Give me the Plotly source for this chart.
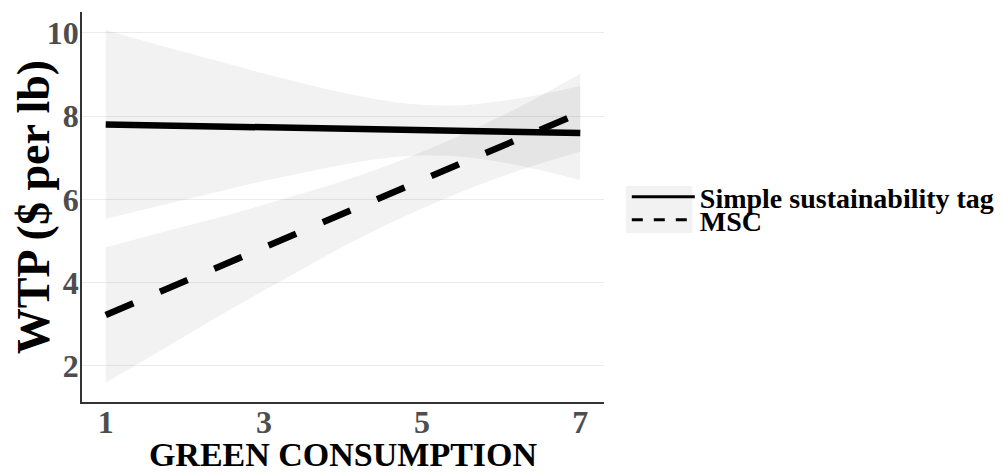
import plotly.graph_objects as go

# Green consumption scale positions
x_vals = [1, 1.5, 2, 2.5, 3, 3.5, 4, 4.5, 5, 5.5, 6, 6.5, 7]

# Simple sustainability tag: fitted WTP and confidence band
simple_fit = [7.80, 7.78, 7.77, 7.75, 7.73, 7.71, 7.70, 7.68, 7.66, 7.64, 7.63, 7.61, 7.59]
simple_upper = [10.07, 9.80, 9.54, 9.28, 9.02, 8.78, 8.56, 8.38, 8.27, 8.26, 8.36, 8.52, 8.72]
simple_lower = [5.53, 5.76, 5.99, 6.22, 6.44, 6.64, 6.83, 6.98, 7.05, 7.02, 6.89, 6.70, 6.46]

# MSC: fitted WTP and confidence band
msc_fit = [3.22, 3.63, 4.03, 4.44, 4.84, 5.25, 5.65, 6.06, 6.46, 6.87, 7.27, 7.68, 8.08]
msc_upper = [4.85, 5.10, 5.35, 5.60, 5.87, 6.15, 6.44, 6.77, 7.14, 7.55, 8.00, 8.49, 9.02]
msc_lower = [1.59, 2.15, 2.71, 3.27, 3.81, 4.34, 4.86, 5.34, 5.78, 6.18, 6.54, 6.86, 7.14]

series_names = ["Simple sustainability tag", "MSC"]
x_ticks = [1, 3, 5, 7]
y_ticks = [2, 4, 6, 8, 10]

FONT = "Liberation Serif, Times New Roman, serif"
BAND = "rgba(0,0,0,0.05)"

fig = go.Figure()

def add_band(lower, upper):
    fig.add_trace(go.Scatter(x=x_vals, y=lower, mode="lines", line=dict(width=0, shape="spline"),
                             showlegend=False, hoverinfo="skip"))
    fig.add_trace(go.Scatter(x=x_vals, y=upper, mode="lines", line=dict(width=0, shape="spline"),
                             fill="tonexty", fillcolor=BAND, showlegend=False, hoverinfo="skip"))

add_band(simple_lower, simple_upper)
fig.add_trace(go.Scatter(x=x_vals, y=simple_fit, mode="lines", name=series_names[0],
                         line=dict(color="black", width=6.5), showlegend=False))
add_band(msc_lower, msc_upper)
fig.add_trace(go.Scatter(x=x_vals, y=msc_fit, mode="lines", name=series_names[1],
                         line=dict(color="black", width=6.5, dash="30px,29px"), showlegend=False))

# legend entries (thinner key lines, as in the reference legend)
fig.add_trace(go.Scatter(x=[None], y=[None], mode="lines", name=series_names[0],
                         line=dict(color="black", width=3), legend="legend"))
fig.add_trace(go.Scatter(x=[None], y=[None], mode="lines", name=series_names[1],
                         line=dict(color="black", width=3, dash="11px,11px"), legend="legend2"))

legend_common = dict(x=1.0437, xanchor="left", yanchor="middle",
                     font=dict(family=FONT, size=28, color="black", weight="bold"),
                     bgcolor="rgba(0,0,0,0)", itemwidth=63, borderwidth=0)

fig.update_layout(
    width=996, height=465,
    margin=dict(l=74, r=396, t=4, b=71),
    paper_bgcolor="white", plot_bgcolor="white",
    font=dict(family=FONT, color="black"),
    legend=dict(y=0.5255, **legend_common),
    legend2=dict(y=0.4665, **legend_common),
    showlegend=True,
    shapes=[dict(type="rect", xref="paper", yref="paper", x0=1.0418, x1=1.1692, y0=0.4333, y1=0.5538,
                 fillcolor="#f2f2f2", line=dict(width=0), layer="below")],
)
fig.update_xaxes(
    range=[0.7, 7.3], tickvals=x_ticks, showgrid=False, zeroline=False, automargin=False,
    showline=True, linecolor="#333333", linewidth=1.5, ticks="", ticklabelstandoff=-9,
    tickfont=dict(family=FONT, size=32, color="#4d4d4d", weight="bold"),
    title=dict(text="GREEN CONSUMPTION", font=dict(family=FONT, size=34, color="black", weight="bold")),
)
fig.update_yaxes(
    range=[1.13, 10.5], tickvals=y_ticks, showgrid=True, gridcolor="#ebebeb", gridwidth=1.2, zeroline=False,
    automargin=True, ticklabelstandoff=-5,
    showline=True, linecolor="#333333", linewidth=1.5, ticks="",
    tickfont=dict(family=FONT, size=32, color="#4d4d4d", weight="bold"),
    title=dict(text="WTP ($ per lb)", font=dict(family=FONT, size=46, color="black", weight="bold"), standoff=1),
)

fig.write_html("out.html")
